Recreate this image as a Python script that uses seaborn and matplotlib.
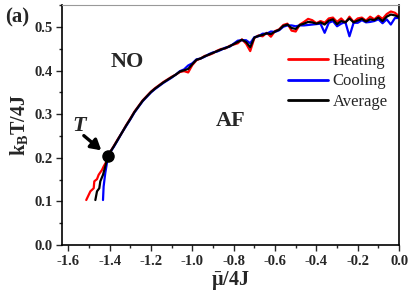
import pandas as pd
import matplotlib
matplotlib.use("Agg")
import matplotlib.pyplot as plt
import seaborn as sns
from matplotlib.ticker import MultipleLocator
from matplotlib.lines import Line2D

# low-temperature branches (below the point T)
heat_mu_low = [-1.513, -1.493, -1.477, -1.474, -1.461, -1.453, -1.437, -1.429, -1.416, -1.408]
heat_t_low = [0.103, 0.123, 0.130, 0.146, 0.151, 0.161, 0.172, 0.180, 0.191, 0.205]
cool_mu_low = [-1.432, -1.429, -1.421, -1.413, -1.408]
cool_t_low = [0.103, 0.134, 0.165, 0.188, 0.205]
avg_mu_low = [-1.469, -1.461, -1.450, -1.445, -1.432, -1.421, -1.408]
avg_t_low = [0.103, 0.123, 0.130, 0.146, 0.161, 0.180, 0.205]

# upper branch, shared chemical potential grid
mu_up = [-1.38, -1.36, -1.34, -1.32, -1.30, -1.28, -1.26, -1.24, -1.22, -1.20,
         -1.18, -1.16, -1.14, -1.12, -1.10, -1.08, -1.06, -1.04, -1.02, -1.00,
         -0.98, -0.96, -0.94, -0.92, -0.90, -0.88, -0.86, -0.84, -0.82, -0.80,
         -0.78, -0.76, -0.74, -0.72, -0.70, -0.68, -0.66, -0.64, -0.62, -0.60,
         -0.58, -0.56, -0.54, -0.52, -0.50, -0.48, -0.46, -0.44, -0.42, -0.40,
         -0.38, -0.36, -0.34, -0.32, -0.30, -0.28, -0.26, -0.24, -0.22, -0.20,
         -0.18, -0.16, -0.14, -0.12, -0.10, -0.08, -0.06, -0.04, -0.02, -0.005]
heat_up = [0.227, 0.243, 0.258, 0.275, 0.290, 0.306, 0.319, 0.332, 0.342, 0.352,
           0.360, 0.367, 0.374, 0.380, 0.386, 0.391, 0.397, 0.399, 0.396, 0.413,
           0.424, 0.428, 0.434, 0.436, 0.440, 0.446, 0.450, 0.451, 0.457, 0.460,
           0.463, 0.472, 0.462, 0.445, 0.475, 0.481, 0.479, 0.487, 0.478, 0.491,
           0.495, 0.505, 0.508, 0.492, 0.490, 0.506, 0.512, 0.519, 0.516, 0.509,
           0.514, 0.510, 0.520, 0.522, 0.512, 0.520, 0.510, 0.524, 0.512, 0.520,
           0.522, 0.515, 0.524, 0.518, 0.526, 0.519, 0.530, 0.536, 0.533, 0.527]
cool_up = [0.225, 0.241, 0.258, 0.273, 0.288, 0.304, 0.317, 0.330, 0.340, 0.350,
           0.358, 0.365, 0.372, 0.378, 0.384, 0.391, 0.399, 0.403, 0.412, 0.417,
           0.426, 0.428, 0.432, 0.438, 0.442, 0.444, 0.448, 0.453, 0.455, 0.462,
           0.469, 0.470, 0.470, 0.463, 0.477, 0.479, 0.485, 0.485, 0.490, 0.489,
           0.493, 0.501, 0.504, 0.504, 0.502, 0.504, 0.504, 0.505, 0.506, 0.507,
           0.508, 0.487, 0.510, 0.514, 0.502, 0.508, 0.512, 0.479, 0.510, 0.510,
           0.516, 0.511, 0.512, 0.514, 0.518, 0.509, 0.518, 0.506, 0.521, 0.521]
avg_up = [0.226, 0.242, 0.258, 0.274, 0.289, 0.305, 0.318, 0.331, 0.341, 0.351,
          0.359, 0.366, 0.373, 0.379, 0.385, 0.391, 0.398, 0.401, 0.404, 0.415,
          0.425, 0.428, 0.433, 0.437, 0.441, 0.445, 0.449, 0.452, 0.456, 0.461,
          0.466, 0.471, 0.466, 0.454, 0.476, 0.480, 0.482, 0.486, 0.484, 0.490,
          0.494, 0.503, 0.506, 0.498, 0.496, 0.505, 0.508, 0.512, 0.511, 0.508,
          0.511, 0.506, 0.515, 0.518, 0.507, 0.514, 0.511, 0.520, 0.511, 0.515,
          0.519, 0.513, 0.518, 0.516, 0.522, 0.514, 0.524, 0.529, 0.527, 0.524]

t_point = (-1.408, 0.205)

series = ["Heating", "Cooling", "Average"]
colors = {"Heating": "red", "Cooling": "blue", "Average": "black"}

frames = []
for name, mlow, tlow, tup in [("Heating", heat_mu_low, heat_t_low, heat_up),
                              ("Cooling", cool_mu_low, cool_t_low, cool_up),
                              ("Average", avg_mu_low, avg_t_low, avg_up)]:
    frames.append(pd.DataFrame({"mu": mlow + mu_up, "T": tlow + tup, "series": name}))
df = pd.concat(frames, ignore_index=True)

sns.set_style("ticks")
plt.rcParams["font.family"] = ["Liberation Serif", "DejaVu Serif"]
plt.rcParams["font.weight"] = "bold"
plt.rcParams["mathtext.fontset"] = "custom"
plt.rcParams["mathtext.rm"] = "Liberation Serif:bold"
plt.rcParams["mathtext.it"] = "Liberation Serif:bold:italic"
plt.rcParams["mathtext.bf"] = "Liberation Serif:bold"

fig = plt.figure(figsize=(4.11, 2.99), dpi=100)
ax = fig.add_axes([0.151, 0.181, 0.820, 0.801])

sns.lineplot(data=df, x="mu", y="T", hue="series", hue_order=series,
             palette=colors, sort=False, estimator=None, linewidth=1.6,
             legend=False, ax=ax)

ax.plot(*t_point, "o", color="black", markersize=8, zorder=5)
ax.annotate("", xy=(-1.43, 0.213), xytext=(-1.535, 0.255),
            arrowprops=dict(arrowstyle="-|>,head_width=0.35,head_length=0.6",
                            color="black", lw=2.4))
ax.text(-1.545, 0.272, "T", fontsize=16, fontstyle="italic", fontweight="bold",
        ha="center", va="center")
ax.text(-1.314, 0.42, "NO", fontsize=16, fontweight="bold", ha="center", va="center")
ax.text(-0.815, 0.285, "AF", fontsize=16, fontweight="bold", ha="center", va="center")

ax.set_xlim(-1.63, 0.0)
ax.set_ylim(0.0, 0.55)
ax.xaxis.set_minor_locator(MultipleLocator(0.1))
ax.yaxis.set_major_locator(MultipleLocator(0.1))
ax.yaxis.set_minor_locator(MultipleLocator(0.05))
ax.set_xticks([-1.6, -1.4, -1.2, -1.0, -0.8, -0.6, -0.4, -0.2, 0.0])
ax.set_xticklabels(["-1.6", "-1.4", "-1.2", "-1.0", "-0.8", "-0.6", "-0.4", "-0.2", "0.0"])
ax.tick_params(which="major", direction="out", length=4, width=1, labelsize=10.5, pad=3)
ax.tick_params(which="minor", direction="out", length=2, width=1)
for lab in ax.get_xticklabels() + ax.get_yticklabels():
    lab.set_fontweight("bold")

for side in ["left", "bottom", "right"]:
    ax.spines[side].set_color("black")
    ax.spines[side].set_linewidth(1.2)
ax.spines["top"].set_color("#999999")
ax.spines["top"].set_linewidth(0.8)

ax.set_xlabel(r"$\bar{\mathrm{\mu}}$/4J", fontsize=14.5, fontweight="bold", labelpad=1)
ax.set_ylabel(r"k$_\mathrm{B}$T/4J", fontsize=14.5, fontweight="bold", labelpad=3)

handles = [Line2D([], [], color=colors[s], lw=2) for s in series]
leg = ax.legend(handles, series, loc="upper left", bbox_to_anchor=(0.67, 0.80),
                frameon=False, handlelength=2.4, handletextpad=0.3,
                labelspacing=0.25, borderpad=0, borderaxespad=0,
                prop={"family": "Liberation Serif", "weight": "normal", "size": 12})

fig.text(0.042, 0.941, "(a)", fontsize=15, fontweight="bold", ha="center", va="center")

fig.savefig("out.png", dpi=100)
